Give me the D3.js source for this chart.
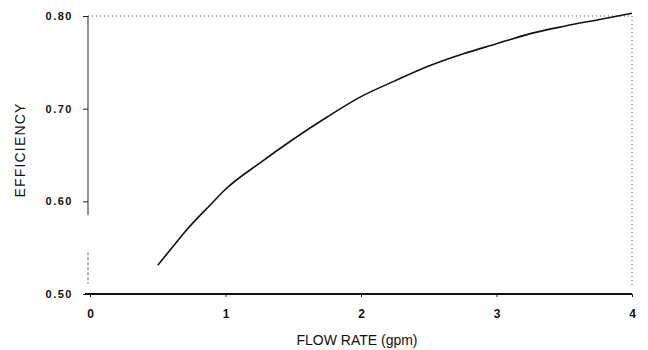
<!DOCTYPE html>
<html>
<head>
<meta charset="utf-8">
<script src="https://cdn.jsdelivr.net/npm/d3@7/dist/d3.min.js"></script>
<style>
  html, body { margin: 0; padding: 0; background: #fff; }
  svg { display: block; }
  text { font-family: "Liberation Sans", Arial, sans-serif; fill: #111; }
</style>
</head>
<body>
<svg id="chart" width="648" height="350"></svg>
<script>
// Pump efficiency versus flow rate
const flowRate   = [0.5, 0.6, 0.7, 0.9, 1.0, 1.25, 1.5, 1.75, 2.0, 2.25, 2.5, 2.75, 3.0, 3.25, 3.5, 3.75, 4.0];
const efficiency = [0.531, 0.549, 0.567, 0.598, 0.613, 0.641, 0.667, 0.691, 0.713, 0.730, 0.746, 0.759, 0.770, 0.781, 0.789, 0.796, 0.803];
const xTicks = [0, 1, 2, 3, 4];
const yTicks = [0.50, 0.60, 0.70, 0.80];
const xTitle = "FLOW RATE (gpm)";
const yTitle = "EFFICIENCY";

const svg = d3.select("#chart");
const plot = { left: 88, right: 632, top: 16, bottom: 294 };

const x = d3.scaleLinear().domain([0, 4]).range([plot.left + 2, plot.right]);
const y = d3.scaleLinear().domain([0.5, 0.8]).range([plot.bottom, plot.top]);

// frame: dotted top and right edges
svg.append("line")
  .attr("x1", plot.left).attr("x2", plot.right)
  .attr("y1", y(0.8)).attr("y2", y(0.8))
  .attr("stroke", "#555").attr("stroke-width", 1)
  .attr("stroke-dasharray", "1,3");
svg.append("line")
  .attr("x1", plot.right).attr("x2", plot.right)
  .attr("y1", y(0.8)).attr("y2", plot.bottom - 8)
  .attr("stroke", "#555").attr("stroke-width", 1)
  .attr("stroke-dasharray", "1,3");

// left axis
const yAxis = d3.axisLeft(y)
  .tickValues(yTicks)
  .tickFormat(d3.format(".2f"))
  .tickSize(5)
  .tickPadding(10);
const gy = svg.append("g")
  .attr("transform", `translate(${plot.left},0)`)
  .call(yAxis);
gy.select(".domain").remove();
gy.selectAll(".tick line").attr("stroke", "#222");
gy.selectAll(".tick text")
  .style("font-size", "11px")
  .style("font-weight", "bold")
  .style("letter-spacing", "1.5px")
  .attr("fill", "#111");
// vertical axis line (upper part solid, lower part broken)
svg.append("line")
  .attr("x1", plot.left).attr("x2", plot.left)
  .attr("y1", y(0.8)).attr("y2", y(0.585))
  .attr("stroke", "#222").attr("stroke-width", 1);
svg.append("line")
  .attr("x1", plot.left).attr("x2", plot.left)
  .attr("y1", y(0.545)).attr("y2", plot.bottom - 10)
  .attr("stroke", "#666").attr("stroke-width", 1)
  .attr("stroke-dasharray", "3,2");

// bottom axis
const xAxis = d3.axisBottom(x)
  .tickValues(xTicks)
  .tickFormat(d3.format("d"))
  .tickSize(3)
  .tickPadding(12);
const gx = svg.append("g")
  .attr("transform", `translate(0,${plot.bottom})`)
  .call(xAxis);
gx.select(".domain").remove();
gx.selectAll(".tick line").attr("stroke", "#222");
gx.selectAll(".tick text")
  .style("font-size", "12px")
  .style("font-weight", "bold")
  .attr("fill", "#111");
svg.append("line")
  .attr("x1", plot.left - 3).attr("x2", plot.right)
  .attr("y1", plot.bottom).attr("y2", plot.bottom)
  .attr("stroke", "#111").attr("stroke-width", 2);

// axis titles
svg.append("text")
  .attr("x", 357)
  .attr("y", 345)
  .attr("text-anchor", "middle")
  .style("font-size", "14px")
  .text(xTitle);
svg.append("text")
  .attr("transform", "translate(25,150) rotate(-90)")
  .attr("text-anchor", "middle")
  .style("font-size", "14px")
  .style("letter-spacing", "1.2px")
  .text(yTitle);

// efficiency curve
const pts = flowRate.map((f, i) => [f, efficiency[i]]);
const line = d3.line()
  .x(d => x(d[0]))
  .y(d => y(d[1]))
  .curve(d3.curveMonotoneX);
svg.append("path")
  .datum(pts)
  .attr("d", line)
  .attr("fill", "none")
  .attr("stroke", "#111")
  .attr("stroke-width", 1.6);
</script>
</body>
</html>
